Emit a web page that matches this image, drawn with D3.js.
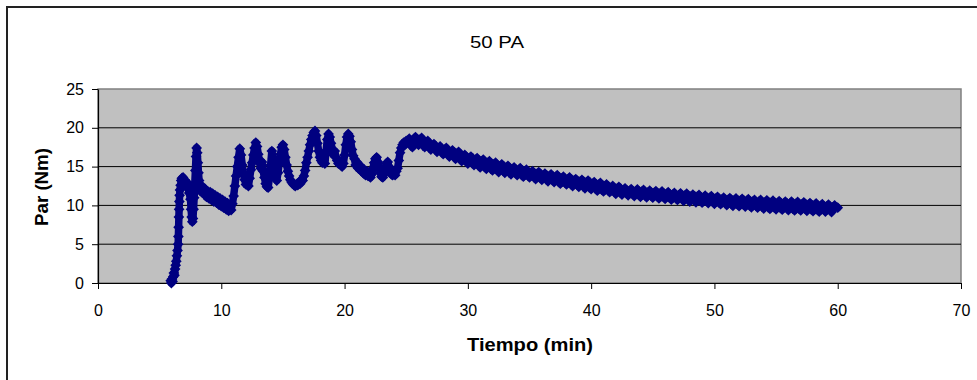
<!DOCTYPE html>
<html><head><meta charset="utf-8">
<script src="https://cdn.jsdelivr.net/npm/d3@7"></script>
<style>
body{margin:0;background:#fff}
svg{display:block}
text{font-family:Arial,"Liberation Sans",sans-serif;fill:#000}
</style>
</head><body>
<svg id="c" width="977" height="380"></svg>
<script>
const titulo = "50 PA";
const tituloX = "Tiempo (min)";
const tituloY = "Par (Nm)";
const ticksX = [0,10,20,30,40,50,60,70];
const ticksY = [0,5,10,15,20,25];

// [tiempo (min), par (Nm)]
const arranque = [[5.9,0.3],[5.95,0.0],[6.0,0.5],[6.05,0.2],[6.1,0.8],[6.15,1.3],[6.2,1.0],[6.25,1.8],[6.3,2.3],[6.35,2.8],[6.4,3.5],[6.45,4.2],[6.5,5.0],[6.52,6.0],[6.54,7.2],[6.56,8.5],[6.58,9.5],[6.6,10.5],[6.62,11.3],[6.65,12.0],[6.7,12.6],[6.75,13.2],[6.8,13.5],[6.9,13.6],[7.0,13.3],[7.1,12.7],[7.2,13.0],[7.3,12.2],[7.4,11.6],[7.5,10.8],[7.55,9.5],[7.6,8.5],[7.65,7.9],[7.7,8.3],[7.75,9.5],[7.8,11.0],[7.85,12.8],[7.9,14.5],[7.95,16.3],[8.0,17.4],[8.05,16.8],[8.1,15.5],[8.15,14.2],[8.2,13.2]];

const oscilacion = [[8.3,12.4],[8.4,11.7],[8.5,12.4],[8.6,11.5],[8.7,12.1],[8.8,11.1],[8.9,11.8],[9.0,10.9],[9.1,11.7],[9.2,10.7],[9.3,11.5],[9.4,10.5],[9.5,11.3],[9.6,10.4],[9.7,11.1],[9.8,10.1],[9.9,10.9],[10.0,9.9],[10.1,10.7],[10.2,9.7],[10.3,10.5],[10.4,9.5],[10.5,10.3],[10.6,9.3],[10.7,9.9],[10.8,9.4],[10.9,10.2],[11.0,11.2],[11.1,12.5],[11.2,13.8],[11.3,15.0],[11.4,16.2],[11.5,17.3],[11.6,16.5],[11.7,15.2],[11.8,14.0],[11.9,13.3],[12.0,12.7],[12.1,13.2],[12.2,12.5],[12.3,13.5],[12.4,14.6],[12.5,15.5],[12.6,16.5],[12.7,17.4],[12.8,18.1],[12.9,17.6],[13.0,16.6],[13.1,15.5],[13.2,14.8],[13.3,15.6],[13.4,14.4],[13.5,13.6],[13.6,12.8],[13.7,12.4],[13.8,12.3],[13.9,13.5],[14.0,15.2],[14.1,17.0],[14.2,16.0],[14.3,14.6],[14.4,13.6],[14.5,13.2],[14.6,14.2],[14.7,15.5],[14.8,16.6],[14.9,17.5],[15.0,17.8],[15.1,17.2],[15.2,16.2],[15.3,15.2],[15.4,14.4],[15.5,13.8],[15.6,13.3],[15.7,13.0],[15.8,12.8],[15.9,12.6],[16.0,12.5],[16.1,12.7],[16.2,12.6],[16.3,13.0],[16.4,12.8],[16.5,13.3],[16.6,13.2],[16.7,13.8],[16.8,14.5],[16.9,15.5],[17.0,16.2],[17.1,17.0],[17.2,17.8],[17.3,18.5],[17.4,19.0],[17.5,19.4],[17.6,19.6],[17.7,19.0],[17.8,18.0],[17.9,17.0],[18.0,16.2],[18.1,15.8],[18.2,15.5],[18.3,15.8],[18.4,15.4],[18.5,17.0],[18.6,18.5],[18.7,19.2],[18.8,18.8],[18.9,18.0],[19.0,17.2],[19.1,16.5],[19.2,17.0],[19.3,16.2],[19.4,15.8],[19.5,15.4],[19.6,15.6],[19.7,15.2],[19.8,15.0],[19.9,15.4],[20.0,16.5],[20.1,17.8],[20.2,18.8],[20.3,19.2],[20.4,18.9],[20.5,18.2],[20.6,17.2],[20.7,16.4],[20.8,16.0],[20.9,15.2],[21.0,15.6],[21.1,14.8],[21.2,15.2],[21.3,14.5],[21.4,14.9],[21.5,14.2],[21.6,14.6],[21.7,13.9],[21.8,14.4],[21.9,13.8],[22.0,14.2],[22.1,13.6],[22.2,14.0],[22.3,14.8],[22.4,15.5],[22.5,16.0],[22.6,16.2],[22.7,15.6],[22.8,14.8],[22.9,14.2],[23.0,13.7],[23.1,13.6],[23.2,14.0],[23.3,14.8],[23.4,15.4],[23.5,15.6],[23.6,15.0],[23.7,14.4],[23.8,14.0],[23.9,13.9],[24.0,14.3],[24.1,13.9],[24.2,14.4],[24.3,14.8],[24.4,15.8],[24.5,16.8],[24.6,17.4],[24.7,17.8],[24.8,18.1],[24.9,17.8],[25.0,18.3]];

const decaimiento = [[25.25,18.6],[25.5,17.5],[25.75,18.8],[26.0,17.8],[26.25,18.7],[26.5,17.5],[26.75,18.3],[27.0,17.2],[27.25,17.9],[27.5,16.9],[27.75,17.6],[28.0,16.6],[28.25,17.4],[28.5,16.3],[28.75,17.1],[29.0,16.0],[29.25,16.9],[29.5,15.7],[29.75,16.5],[30.0,15.4],[30.25,16.3],[30.5,15.2],[30.75,16.1],[31.0,14.9],[31.25,15.9],[31.5,14.7],[31.75,15.7],[32.0,14.5],[32.25,15.5],[32.5,14.3],[32.75,15.3],[33.0,14.2],[33.25,15.1],[33.5,14.0],[33.75,14.9],[34.0,13.9],[34.25,14.8],[34.5,13.7],[34.75,14.6],[35.0,13.6],[35.25,14.4],[35.5,13.4],[35.75,14.3],[36.0,13.3],[36.25,14.1],[36.5,13.1],[36.75,14.0],[37.0,13.0],[37.25,13.9],[37.5,12.8],[37.75,13.7],[38.0,12.7],[38.25,13.6],[38.5,12.5],[38.75,13.4],[39.0,12.4],[39.25,13.3],[39.5,12.2],[39.75,13.2],[40.0,12.1],[40.25,13.0],[40.5,11.9],[40.75,12.9],[41.0,11.8],[41.25,12.7],[41.5,11.7],[41.75,12.5],[42.0,11.5],[42.25,12.4],[42.5,11.4],[42.75,12.2],[43.0,11.3],[43.25,12.1],[43.5,11.2],[43.75,12.05],[44.0,11.1],[44.25,12.0],[44.5,11.05],[44.75,11.9],[45.0,11.0],[45.25,11.85],[45.5,10.9],[45.75,11.8],[46.0,10.85],[46.25,11.7],[46.5,10.75],[46.75,11.6],[47.0,10.7],[47.25,11.55],[47.5,10.6],[47.75,11.5],[48.0,10.5],[48.25,11.4],[48.5,10.4],[48.75,11.35],[49.0,10.35],[49.25,11.25],[49.5,10.3],[49.75,11.2],[50.0,10.2],[50.25,11.1],[50.5,10.15],[50.75,11.0],[51.0,10.05],[51.25,10.95],[51.5,9.95],[51.75,10.9],[52.0,9.9],[52.25,10.85],[52.5,9.85],[52.75,10.8],[53.0,9.75],[53.25,10.7],[53.5,9.7],[53.75,10.7],[54.0,9.6],[54.25,10.65],[54.5,9.55],[54.75,10.6],[55.0,9.5],[55.25,10.55],[55.5,9.45],[55.75,10.5],[56.0,9.4],[56.25,10.5],[56.5,9.35],[56.75,10.45],[57.0,9.35],[57.25,10.4],[57.5,9.3],[57.75,10.3],[58.0,9.25],[58.25,10.25],[58.5,9.2],[58.75,10.15],[59.0,9.2],[59.25,10.1],[59.5,9.15],[59.75,10.0],[60.0,9.7]];

const serie = arranque.concat(oscilacion, decaimiento);

const svg = d3.select("#c");
const x = d3.scaleLinear().domain([0,70]).range([98,961]);
const y = d3.scaleLinear().domain([0,25]).range([283,89]);

// outer frame
svg.append("path").attr("d","M7,380V7H977").attr("fill","none").attr("stroke","#222").attr("stroke-width",2);

// plot area
svg.append("rect").attr("x",x(0)).attr("y",y(25)).attr("width",x(70)-x(0)).attr("height",y(0)-y(25))
  .attr("fill","#c0c0c0").attr("stroke","#808080").attr("stroke-width",1.5);

// gridlines
svg.append("g").selectAll("line").data(ticksY.filter(v=>v>0&&v<25)).join("line")
  .attr("x1",x(0)).attr("x2",x(70)).attr("y1",d=>y(d)).attr("y2",d=>y(d))
  .attr("stroke","#000").attr("stroke-width",1);

// axes
const ax = svg.append("g").attr("transform",`translate(0,${y(0)})`)
  .call(d3.axisBottom(x).tickValues(ticksX).tickSize(6).tickSizeOuter(0).tickPadding(16).tickFormat(d3.format("d")));
const ay = svg.append("g").attr("transform",`translate(${x(0)},0)`)
  .call(d3.axisLeft(y).tickValues(ticksY).tickSize(6).tickSizeOuter(0).tickPadding(8).tickFormat(d3.format("d")));
[ax,ay].forEach(g=>{
  g.select(".domain").attr("stroke","#000").attr("stroke-width",1.2);
  g.selectAll(".tick line").attr("stroke","#000");
  g.selectAll("text").attr("font-size",16).attr("font-family","Arial, 'Liberation Sans', sans-serif").attr("fill","#000");
});

// series
const color = "#000080";
svg.append("path").datum(serie)
  .attr("d",d3.line().x(d=>x(d[0])).y(d=>y(d[1])))
  .attr("fill","none").attr("stroke",color).attr("stroke-width",7.5).attr("stroke-linejoin","round").attr("stroke-linecap","round");
const sym = d3.symbol().type(d3.symbolSquare).size(58);
svg.append("g").selectAll("path").data(serie).join("path")
  .attr("d",sym)
  .attr("transform",d=>`translate(${x(d[0])},${y(d[1])}) rotate(45)`)
  .attr("fill",color);

// titles
svg.append("text").attr("x",497).attr("y",48).attr("text-anchor","middle")
  .attr("font-size",17).attr("textLength",54).attr("lengthAdjust","spacingAndGlyphs").text(titulo);
svg.append("text").attr("x",530).attr("y",351).attr("text-anchor","middle")
  .attr("font-size",18).attr("font-weight","bold").attr("textLength",126).attr("lengthAdjust","spacingAndGlyphs").text(tituloX);
svg.append("text").attr("transform","translate(48,187) rotate(-90)").attr("text-anchor","middle")
  .attr("font-size",18).attr("font-weight","bold").attr("textLength",78).attr("lengthAdjust","spacingAndGlyphs").text(tituloY);
</script>
</body></html>
